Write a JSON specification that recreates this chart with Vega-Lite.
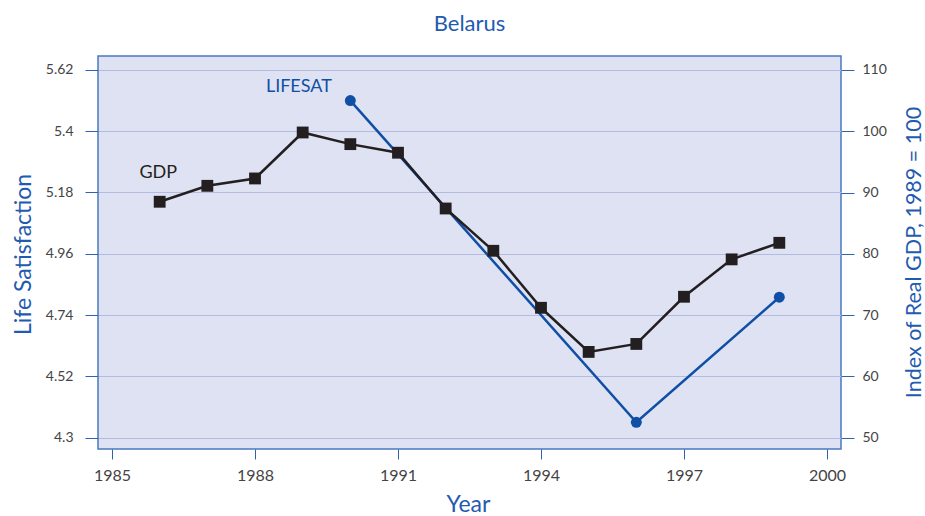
{
  "$schema": "https://vega.github.io/schema/vega-lite/v6.json",
  "autosize": {"type": "none"},
  "padding": {"left": 98, "top": 56, "right": 84, "bottom": 67},
  "width": 743,
  "height": 393,
  "background": "white",
  "title": {"text": "Belarus", "color": "#1f5bb0", "fontSize": 22, "font": "Lato", "fontWeight": "normal", "offset": 20},
  "config": {
    "view": {"fill": "#dfe2f2", "stroke": "#4a78c0", "strokeWidth": 1.5},
    "axis": {"labelFont": "Lato", "titleFont": "Lato", "labelColor": "#444444", "titleColor": "#1f5bb0", "titleFontWeight": "normal", "tickColor": "#2f62b0", "tickSize": 13, "domain": false}
  },
  "datasets": {
    "lifesat": [
      {"year": 1990, "value": 5.51},
      {"year": 1996, "value": 4.355},
      {"year": 1999, "value": 4.804}
    ],
    "gdp": [
      {"year": 1986, "value": 88.5},
      {"year": 1987, "value": 91.1},
      {"year": 1988, "value": 92.3},
      {"year": 1989, "value": 99.8},
      {"year": 1990, "value": 97.9},
      {"year": 1991, "value": 96.5},
      {"year": 1992, "value": 87.4},
      {"year": 1993, "value": 80.5},
      {"year": 1994, "value": 71.2},
      {"year": 1995, "value": 64.0},
      {"year": 1996, "value": 65.3},
      {"year": 1997, "value": 73.0},
      {"year": 1998, "value": 79.1},
      {"year": 1999, "value": 81.8}
    ],
    "labels": [
      {"year": 1988.92, "value": 5.559, "label": "LIFESAT", "series": "lifesat"},
      {"year": 1985.97, "value": 5.25, "label": "GDP", "series": "gdp"}
    ]
  },
  "encoding": {
    "x": {
      "field": "year", "type": "quantitative",
      "scale": {"domain": [1984.706, 2000.294], "nice": false, "zero": false},
      "axis": {"values": [1985, 1988, 1991, 1994, 1997, 2000], "format": "d", "grid": false, "title": "Year", "titleFontSize": 23, "labelFontSize": 16, "tickSize": 10, "labelPadding": 8, "titleX": 370, "titleY": 62, "titleBaseline": "alphabetic", "titleAlign": "center"}
    }
  },
  "layer": [
    {
      "encoding": {
        "y": {
          "field": "value", "type": "quantitative",
          "scale": {"domain": [4.259, 5.670], "nice": false, "zero": false},
          "axis": {"orient": "left", "values": [4.3, 4.52, 4.74, 4.96, 5.18, 5.4, 5.62], "format": ".3~g", "grid": true, "gridColor": "#b3bbe0", "gridWidth": 1.2, "title": "Life Satisfaction", "titleFontSize": 23, "labelFontSize": 14, "labelPadding": 12, "titleAngle": 270, "titleX": -68, "titleY": 198, "titleBaseline": "alphabetic", "titleAlign": "center"}
        }
      },
      "layer": [
        {"data": {"name": "lifesat"}, "mark": {"type": "line", "color": "#0f4fa5", "strokeWidth": 2.5}},
        {"data": {"name": "lifesat"}, "mark": {"type": "point", "shape": "circle", "filled": true, "opacity": 1, "color": "#0f4fa5", "size": 120}},
        {"data": {"name": "labels"}, "mark": {"type": "text", "font": "Lato", "fontSize": 18, "align": "center", "baseline": "middle"},
         "encoding": {"text": {"field": "label"}, "color": {"field": "series", "type": "nominal", "scale": {"domain": ["lifesat", "gdp"], "range": ["#0f4fa5", "#231f20"]}, "legend": null}}}
      ]
    },
    {
      "encoding": {
        "y": {
          "field": "value", "type": "quantitative",
          "scale": {"domain": [48.16, 112.28], "nice": false, "zero": false},
          "axis": {"orient": "right", "values": [50, 60, 70, 80, 90, 100, 110], "grid": false, "title": "Index of Real GDP, 1989 = 100", "titleFontSize": 21.5, "labelFontSize": 14, "labelPadding": 8, "titleAngle": 270, "titleX": 79, "titleY": 196, "titleBaseline": "alphabetic", "titleAlign": "center"}
        }
      },
      "layer": [
        {"data": {"name": "gdp"}, "mark": {"type": "line", "color": "#231f20", "strokeWidth": 2.5}},
        {"data": {"name": "gdp"}, "mark": {"type": "point", "shape": "square", "filled": true, "opacity": 1, "color": "#231f20", "size": 140}}
      ]
    }
  ],
  "resolve": {"scale": {"y": "independent", "color": "independent"}}
}
